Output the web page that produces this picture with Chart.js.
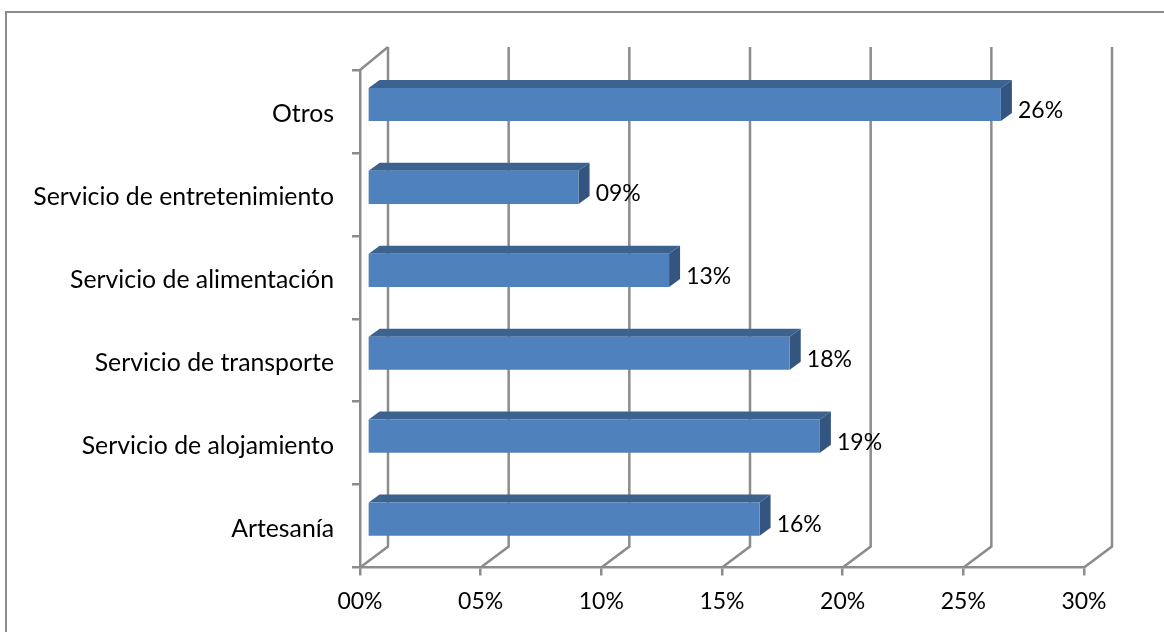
<!DOCTYPE html>
<html>
<head>
<meta charset="utf-8">
<style>
  html, body { margin: 0; padding: 0; background: #fff; overflow: hidden; }
  #frame { position: absolute; left: 5px; top: 11px; right: 0; bottom: 0; border-left: 2px solid #8c8c8c; border-top: 2px solid #8c8c8c; }
  canvas { position: absolute; left: 0; top: 0; }
</style>
<script src="https://cdn.jsdelivr.net/npm/chart.js@4"></script>
</head>
<body>
<div id="frame"></div>
<canvas id="chart" width="1164" height="632"></canvas>
<script>
var categories = ['Otros', 'Servicio de entretenimiento', 'Servicio de alimentación', 'Servicio de transporte', 'Servicio de alojamiento', 'Artesanía'];
var values = [26.25, 8.75, 12.5, 17.5, 18.75, 16.25];
var xTicks = [0, 5, 10, 15, 20, 25, 30];

var gris = '#8c8c8c';
var fuente = 'Lato, sans-serif';

function pct(v) {
    return String(Math.round(v)).padStart(2, '0') + '%';
}

// back wall, the floor diagonals and the corner at the top
var pared = {
    id: 'pared',
    beforeDatasetsDraw: function(chart) {
        var ctx = chart.ctx, sx = chart.scales.x, area = chart.chartArea;
        ctx.save();
        ctx.strokeStyle = gris;
        ctx.lineWidth = 2.5;
        xTicks.forEach(function(t) {
            var px = sx.getPixelForValue(t);
            ctx.beginPath();
            ctx.moveTo(px, area.bottom);
            ctx.lineTo(px + 28, area.bottom - 21);
            ctx.lineTo(px + 28, area.top - 23);
            ctx.stroke();
        });
        var x0 = sx.getPixelForValue(0);
        ctx.beginPath();
        ctx.moveTo(x0, area.top);
        ctx.lineTo(x0 + 28, area.top - 23);
        ctx.stroke();
        ctx.restore();
    }
};

// bars sit a bit inside the floor, top and side faces give the 3d look
var caras = {
    id: 'caras',
    beforeDatasetDraw: function(chart) {
        var ctx = chart.ctx;
        ctx.save();
        ctx.translate(7.4, -7);
        chart.getDatasetMeta(0).data.forEach(function(bar) {
            var p = bar.getProps(['x', 'y', 'base', 'height']);
            var top = p.y - p.height / 2, bot = p.y + p.height / 2;
            ctx.fillStyle = '#3c628f';
            ctx.beginPath();
            ctx.moveTo(p.base, top);
            ctx.lineTo(p.base + 11, top - 8);
            ctx.lineTo(p.x + 11, top - 8);
            ctx.lineTo(p.x, top);
            ctx.closePath();
            ctx.fill();
            ctx.fillStyle = '#33557f';
            ctx.beginPath();
            ctx.moveTo(p.x, top);
            ctx.lineTo(p.x + 11, top - 8);
            ctx.lineTo(p.x + 11, bot - 8);
            ctx.lineTo(p.x, bot);
            ctx.closePath();
            ctx.fill();
        });
    },
    afterDatasetDraw: function(chart) {
        var ctx = chart.ctx;
        ctx.restore();
        ctx.save();
        ctx.fillStyle = '#000';
        ctx.font = '23px ' + fuente;
        ctx.textAlign = 'left';
        ctx.textBaseline = 'middle';
        chart.getDatasetMeta(0).data.forEach(function(bar, i) {
            ctx.fillText(pct(values[i]), bar.x + 24.5, bar.y - 1);
        });
        ctx.restore();
    }
};

new Chart(document.getElementById('chart').getContext('2d'), {
    type: 'bar',
    data: {
        labels: categories,
        datasets: [{
            data: values,
            backgroundColor: '#4f81bd',
            borderWidth: 0,
            barPercentage: 0.4,
            categoryPercentage: 1
        }]
    },
    options: {
        indexAxis: 'y',
        responsive: false,
        animation: false,
        layout: { padding: { top: 70, right: 80, left: 0, bottom: 0 } },
        plugins: { legend: { display: false }, tooltip: { enabled: false } },
        scales: {
            x: {
                min: 0,
                max: 30,
                afterBuildTicks: function(s) { s.ticks = xTicks.map(function(v) { return { value: v }; }); },
                afterFit: function(s) { s.height = 64.5; },
                grid: { drawOnChartArea: false, color: gris, lineWidth: 2.5, tickLength: 8 },
                border: { color: gris, width: 2.5 },
                ticks: {
                    color: '#000',
                    padding: 12,
                    maxRotation: 0,
                    font: { family: fuente, size: 23 },
                    callback: function(v) { return pct(v); }
                }
            },
            y: {
                afterFit: function(s) { s.width = 360; },
                grid: { drawOnChartArea: false, color: gris, lineWidth: 2.5, tickLength: 8 },
                border: { color: gris, width: 2.5 },
                ticks: {
                    color: '#000',
                    padding: 18,
                    // empty first line pushes the text down 3px, as in the original
                    font: { family: fuente, size: 24.8, lineHeight: '6px' },
                    callback: function(v) { return ['', this.getLabelForValue(v)]; }
                }
            }
        }
    },
    plugins: [pared, caras]
});
</script>
</body>
</html>
